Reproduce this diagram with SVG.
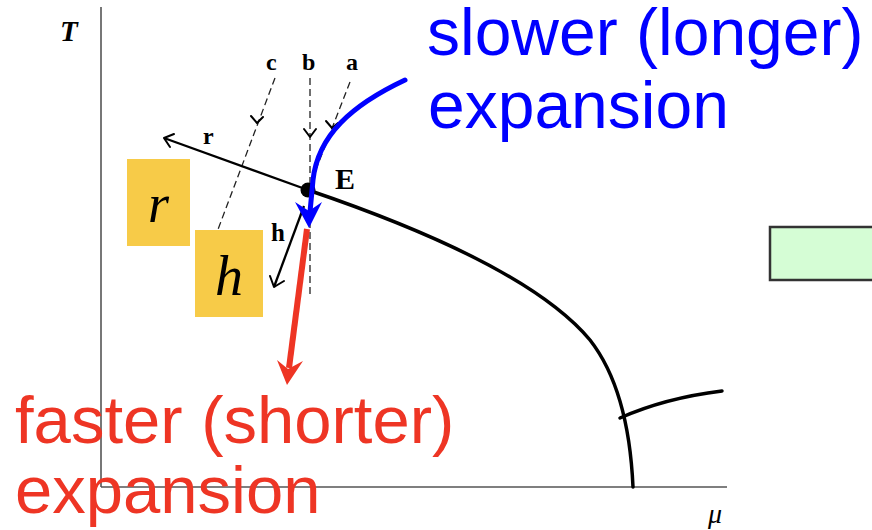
<svg xmlns="http://www.w3.org/2000/svg" width="872" height="530" viewBox="0 0 872 530">
<style>
.axis{stroke:#555;stroke-width:1.6;fill:none}
.curve{stroke:#000;stroke-width:3.5;fill:none;stroke-linecap:round}
.thin{stroke:#000;stroke-width:2.3;fill:none}
.dash{stroke:#222;stroke-width:1.3;fill:none;stroke-dasharray:7 4}
.head{stroke:#000;stroke-width:2;fill:none;stroke-linecap:round;stroke-linejoin:round}
.lbl{font-family:"Liberation Serif","DejaVu Serif",serif;font-weight:bold;fill:#000}
.big{font-family:"Liberation Sans",Arial,sans-serif;font-size:66px}
.ybox{fill:#F7CB48}
.ital{font-family:"Liberation Serif","DejaVu Serif",serif;font-style:italic;fill:#000}
</style>
<rect width="872" height="530" fill="#fff"/>
<g id="axes">
<line class="axis" x1="101" y1="7" x2="101" y2="487"/>
<line class="axis" x1="101" y1="487" x2="727" y2="487"/>
<text class="ital" x="60" y="41" font-size="29" font-weight="bold">T</text>
<text class="ital" x="708" y="523" font-size="28">μ</text>
</g>
<g id="phase-boundary">
<path class="curve" d="M308,190 C420,228 540,280 590,340 C615,372 630,420 633,487"/>
<path class="curve" d="M620,418 Q665,398 722,391"/>
</g>
<g id="connectors">
<path class="dash" d="M275,78 L214,240"/>
<path class="head" d="M251,116 L257,123 L263,117"/>
<path class="dash" d="M310,78 L310,295"/>
<path class="head" d="M304,129 L310,137 L316,129"/>
<path class="dash" d="M350,82 L308,190"/>
<path class="head" d="M326,121 L332,128 L338,123"/>
<path class="thin" d="M308,190 L164,138"/>
<path class="head" d="M174,134 L164,138 L170,147"/>
<path class="thin" d="M304,206 L274,287"/>
<path class="head" d="M270,276 L274,287 L284,281"/>
</g>
<g id="E">
<circle cx="308" cy="190" r="7.5" fill="#000"/>
<text class="lbl" x="335" y="189" font-size="30">E</text>
</g>
<g id="labels">
<text class="lbl" x="266" y="70" font-size="24">c</text>
<text class="lbl" x="302" y="70" font-size="24">b</text>
<text class="lbl" x="346" y="70" font-size="24">a</text>
<text class="lbl" x="203" y="144" font-size="24">r</text>
<text class="lbl" x="271" y="241" font-size="25">h</text>
</g>
<g id="box-r">
<rect class="ybox" x="127" y="159" width="63" height="87"/>
<text class="ital" x="158.5" y="222" font-size="54" text-anchor="middle">r</text>
</g>
<g id="box-h">
<rect class="ybox" x="195" y="230" width="68" height="87"/>
<text class="ital" x="229" y="295" font-size="56" text-anchor="middle">h</text>
</g>
<g id="slower">
<path d="M405,80 C352,105 318,135 313,180 L310,212" stroke="#0000FF" stroke-width="5" fill="none" stroke-linecap="round"/>
<path d="M309,228 L295,202 L309,211 L322,202 Z" fill="#0000FF"/>
<text class="big" x="427" y="55" fill="#0000FF">slower (longer)</text>
<text class="big" x="428" y="128" fill="#0000FF">expansion</text>
</g>
<g id="faster">
<path d="M307,229 L289,368" stroke="#EE3524" stroke-width="6" fill="none"/>
<path d="M287,385 L277,360 L288,369 L303,361 Z" fill="#EE3524"/>
<text class="big" x="15" y="443" font-size="67" fill="#EE3524" style="font-size:67px">faster (shorter)</text>
<text class="big" x="15" y="513" style="font-size:67px" fill="#EE3524">expansion</text>
</g>
<g id="green-box">
<rect x="770" y="227" width="120" height="53" fill="#D5FDD5" stroke="#333" stroke-width="2.5"/>
</g>
</svg>
